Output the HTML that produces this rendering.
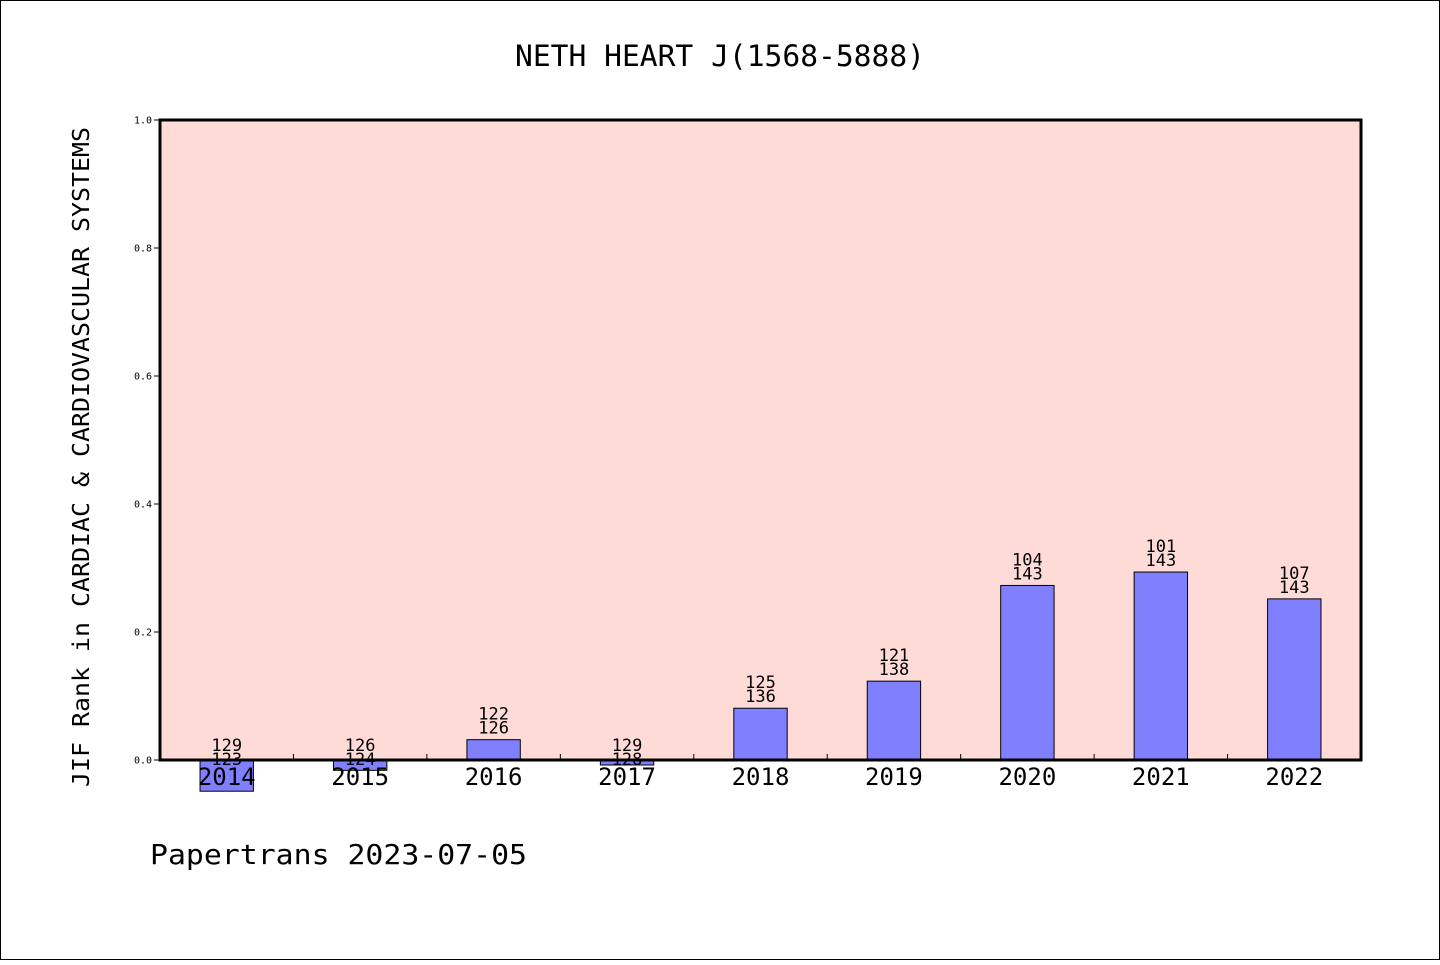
<!DOCTYPE html>
<html><head><meta charset="utf-8"><style>
html,body{margin:0;padding:0;background:#fff}
svg text{font-family:"DejaVu Sans Mono","Liberation Mono",monospace}
</style></head><body>
<svg id="chart" width="1440" height="960" xmlns="http://www.w3.org/2000/svg">
<rect x="0.5" y="0.5" width="1439" height="959" fill="#fff" stroke="#000" stroke-width="1"/>
<text x="720" y="66" font-size="29" text-anchor="middle" textLength="410" lengthAdjust="spacingAndGlyphs">NETH HEART J(1568-5888)</text>
<rect x="160" y="120" width="1201" height="640" fill="#ffdbd8"/>
<g id="bars"></g>
<g id="yaxis"></g>
<g id="xaxis"></g>
<rect x="160" y="120" width="1201" height="640" fill="none" stroke="#000" stroke-width="3"/>
<text transform="translate(89,457) rotate(-90)" font-size="23" text-anchor="middle" textLength="660" lengthAdjust="spacingAndGlyphs">JIF Rank in CARDIAC &amp; CARDIOVASCULAR SYSTEMS</text>
<text x="150" y="864" font-size="28" textLength="377" lengthAdjust="spacingAndGlyphs">Papertrans 2023-07-05</text>
</svg>
<script>
const years=["2014","2015","2016","2017","2018","2019","2020","2021","2022"];
const ranks=[129,126,122,129,125,121,104,101,107];
const totals=[123,124,126,128,136,138,143,143,143];
const yTicks=[0,0.2,0.4,0.6,0.8,1.0];
const yTickLabels=["0.0","0.2","0.4","0.6","0.8","1.0"];
const NS="http://www.w3.org/2000/svg";
const x0=160,x1=1361,yTop=120,yBot=760;
const step=(x1-x0)/years.length;
const xC=i=>x0+step*(i+0.5);
const yS=v=>yBot-(v/1.0)*(yBot-yTop);
function mk(tag,attrs,parent,txt){const e=document.createElementNS(NS,tag);for(const k in attrs)e.setAttribute(k,attrs[k]);if(txt!==undefined)e.textContent=txt;parent.appendChild(e);return e;}
const bars=document.getElementById('bars'),xa=document.getElementById('xaxis'),ya=document.getElementById('yaxis');
const bw=step*0.4;
years.forEach((yr,i)=>{
  const v=(totals[i]-ranks[i])/totals[i];
  const ya1=yS(Math.max(v,0)),ya2=yS(Math.min(v,0));
  const r=mk('rect',{x:xC(i)-bw/2,y:ya1,width:bw,height:Math.max(ya2-ya1,0.5),fill:'#8080ff',stroke:'#000','stroke-width':1},bars);
  
  
  const base=v>0?ya1-6:yBot+5;
  const t1=mk('text',{x:xC(i),y:base-14,'font-size':17,'text-anchor':'middle'},bars,String(ranks[i]));
  
  
  const t2=mk('text',{x:xC(i),y:base,'font-size':17,'text-anchor':'middle'},bars,String(totals[i]));
  
  
  const xl=mk('text',{x:xC(i),y:785,'font-size':24,'text-anchor':'middle'},xa,yr);
  
  
  if(i>0){const tk=mk('line',{x1:x0+step*i,x2:x0+step*i,y1:yBot,y2:yBot-6,stroke:'#000','stroke-width':1},xa);
  
  }
});
yTicks.forEach((v,i)=>{
  const tk=mk('line',{x1:x0-6,x2:x0,y1:yS(v),y2:yS(v),stroke:'#000','stroke-width':1},ya);
  
  
  const tl=mk('text',{x:x0-8,y:yS(v)+3.5,'font-size':10,'text-anchor':'end'},ya,yTickLabels[i]);
  
  
});
</script>
</body></html>
